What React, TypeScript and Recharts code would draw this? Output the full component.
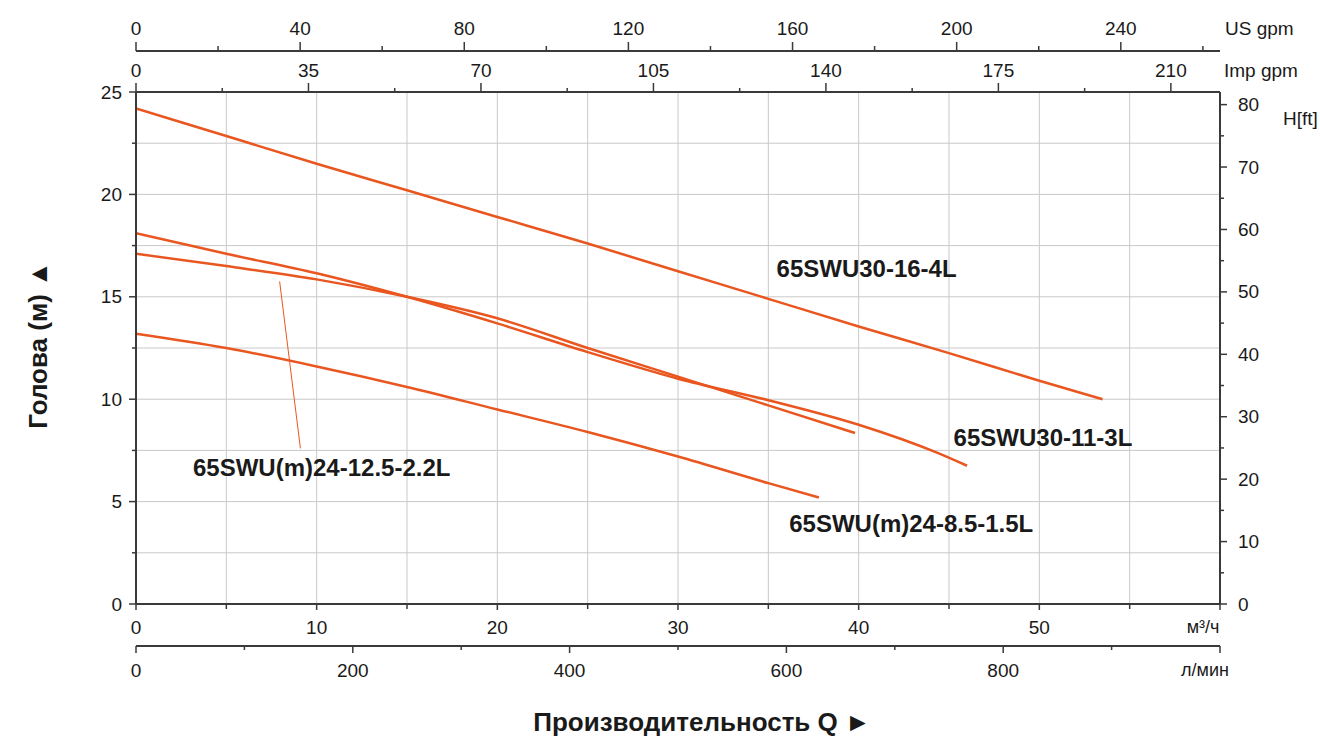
import React from 'react';
import {
  ComposedChart,
  Line,
  XAxis,
  YAxis,
  CartesianGrid,
  ReferenceLine,
  ReferenceDot,
  Label,
} from 'recharts';

// ---------- Data ----------
const qA = [0, 5, 10, 15, 20, 25, 30, 35, 40, 45, 50, 53.5];
const hA = [24.2, 22.85, 21.5, 20.2, 18.9, 17.6, 16.25, 14.9, 13.55, 12.25, 10.9, 10.0];
const qB = [0, 5, 10, 15, 20, 25, 30, 35, 40, 44.3, 46];
const hB = [18.1, 17.1, 16.15, 15.0, 13.7, 12.3, 11.0, 9.95, 8.75, 7.4, 6.75];
const qC = [0, 5, 10, 15, 20, 25, 30, 35, 39.8];
const hC = [17.1, 16.5, 15.85, 15.0, 13.95, 12.5, 11.1, 9.7, 8.35];
const qD = [0, 5, 10, 15, 20, 25, 30, 35, 37.8];
const hD = [13.2, 12.5, 11.6, 10.6, 9.5, 8.4, 7.2, 5.9, 5.2];

const seriesNames = [
  '65SWU30-16-4L',
  '65SWU30-11-3L',
  '65SWU(m)24-12.5-2.2L',
  '65SWU(m)24-8.5-1.5L',
];
// label anchor points (flow m3/h, head m) where each name starts
const labelQ = [35.4, 45.2, 3.1, 36.1];
const labelH = [16.36, 8.15, 6.69, 3.95];
// leader line for 65SWU(m)24-12.5-2.2L
const leaderQ = [7.95, 9.1];
const leaderH = [15.75, 7.6];

const qTicks = [0, 5, 10, 15, 20, 25, 30, 35, 40, 45, 50, 55, 60];
const lminTicks = [0, 100, 200, 300, 400, 500, 600, 700, 800, 900, 1000];
const usTicks = [0, 20, 40, 60, 80, 100, 120, 140, 160, 180, 200, 220, 240, 260];
const impTicks = [0, 17.5, 35, 52.5, 70, 87.5, 105, 122.5, 140, 157.5, 175, 192.5, 210];
const mTicks = [0, 2.5, 5, 7.5, 10, 12.5, 15, 17.5, 20, 22.5, 25];
const ftTicks = [0, 5, 10, 15, 20, 25, 30, 35, 40, 45, 50, 55, 60, 65, 70, 75, 80];

const Q_MAX = 60;
const H_MAX = 25;
const M3H_TO_LMIN = 1000 / 60;
const M3H_TO_USGPM = 4.40287;
const M3H_TO_IMPGPM = 3.66615;
const M_TO_FT = 3.28084;

const toPoints = (qs: number[], hs: number[]) =>
  qs.map((q, i) => ({
    q,
    h: hs[i],
    lmin: q * M3H_TO_LMIN,
    us: q * M3H_TO_USGPM,
    imp: q * M3H_TO_IMPGPM,
  }));
const curves = [toPoints(qA, hA), toPoints(qB, hB), toPoints(qC, hC), toPoints(qD, hD)];

// ---------- Styles ----------
const FONT = '"Liberation Sans", Arial, sans-serif';
const CURVE = '#E9561F';
const AXIS = '#3a3a3a';
const TEXT = '#1a1a1a';
const TICK_FS = 19;

const isMult = (v: number, step: number) => Math.abs(v / step - Math.round(v / step)) < 1e-6;

type TickCfg = {
  orient: 'top' | 'bottom' | 'left' | 'right';
  major: number;
  majorLen: number;
  minorLen: number;
  labelGap: number;
  skipLabel?: (v: number) => boolean;
};

const makeTick = (cfg: TickCfg) => (props: any) => {
  const { x, y, payload } = props;
  const v = payload.value as number;
  const isMajor = isMult(v, cfg.major);
  const len = isMajor ? cfg.majorLen : cfg.minorLen;
  const showLabel = isMajor && !(cfg.skipLabel && cfg.skipLabel(v));
  let line;
  let text = null;
  const common = { fontFamily: FONT, fontSize: TICK_FS, fill: TEXT };
  if (cfg.orient === 'bottom') {
    line = <line x1={x} y1={y} x2={x} y2={y + len} stroke={AXIS} strokeWidth={1.5} />;
    if (showLabel)
      text = (
        <text x={x} y={y + cfg.labelGap} textAnchor="middle" dominantBaseline="central" {...common}>
          {v}
        </text>
      );
  } else if (cfg.orient === 'top') {
    line = <line x1={x} y1={y} x2={x} y2={y - len} stroke={AXIS} strokeWidth={1.5} />;
    if (showLabel)
      text = (
        <text x={x} y={y - cfg.labelGap} textAnchor="middle" dominantBaseline="central" {...common}>
          {v}
        </text>
      );
  } else if (cfg.orient === 'left') {
    line = <line x1={x} y1={y} x2={x - len} y2={y} stroke={AXIS} strokeWidth={1.5} />;
    if (showLabel)
      text = (
        <text x={x - cfg.labelGap} y={y} textAnchor="end" dominantBaseline="central" {...common}>
          {v}
        </text>
      );
  } else {
    line = <line x1={x} y1={y} x2={x + len} y2={y} stroke={AXIS} strokeWidth={1.5} />;
    if (showLabel)
      text = (
        <text x={x + cfg.labelGap} y={y} textAnchor="start" dominantBaseline="central" {...common}>
          {v}
        </text>
      );
  }
  return (
    <g>
      {line}
      {text}
    </g>
  );
};

const qTick = makeTick({ orient: 'bottom', major: 10, majorLen: 6, minorLen: 5, labelGap: 23, skipLabel: (v) => v >= 60 });
const lminTick = makeTick({ orient: 'bottom', major: 200, majorLen: 7, minorLen: 4, labelGap: 24, skipLabel: (v) => v >= 1000 });
const usTick = makeTick({ orient: 'top', major: 40, majorLen: 9, minorLen: 5, labelGap: 23 });
const impTick = makeTick({ orient: 'top', major: 35, majorLen: 9, minorLen: 4, labelGap: 22 });
const mTick = makeTick({ orient: 'left', major: 5, majorLen: 7, minorLen: 4, labelGap: 14 });
const ftTick = makeTick({ orient: 'right', major: 10, majorLen: 7, minorLen: 4, labelGap: 18 });

const unitStyle = { fontFamily: FONT, fontSize: TICK_FS, fill: TEXT };

export default function App() {
  return (
    <div style={{ position: 'absolute', left: 0, top: 0, width: 1320, height: 738, background: '#fff' }}>
      <ComposedChart width={1320} height={738} margin={{ top: 0, right: 0, bottom: 42, left: 0 }}>
        <CartesianGrid xAxisId="flow" yAxisId="m" stroke="#c9c9c9" strokeWidth={1} />

        {/* top axes */}
        <XAxis
          xAxisId="imp"
          dataKey="imp"
          orientation="top"
          type="number"
          domain={[0, Q_MAX * M3H_TO_IMPGPM]}
          allowDataOverflow
          ticks={impTicks}
          interval={0}
          height={41}
          tickSize={0}
          tickMargin={0}
          tickLine={false}
          tick={impTick}
          axisLine={{ stroke: AXIS, strokeWidth: 2 }}
        >
          <Label
            content={(p: any) => (
              <text x={p.viewBox.x + p.viewBox.width + 4} y={p.viewBox.y + p.viewBox.height - 22} dominantBaseline="central" {...unitStyle}>
                Imp gpm
              </text>
            )}
          />
        </XAxis>
        <XAxis
          xAxisId="us"
          dataKey="us"
          orientation="top"
          type="number"
          domain={[0, Q_MAX * M3H_TO_USGPM]}
          allowDataOverflow
          ticks={usTicks}
          interval={0}
          height={51}
          tickSize={0}
          tickMargin={0}
          tickLine={false}
          tick={usTick}
          axisLine={{ stroke: AXIS, strokeWidth: 2 }}
        >
          <Label
            content={(p: any) => (
              <text x={p.viewBox.x + p.viewBox.width + 5} y={p.viewBox.y + p.viewBox.height - 23} dominantBaseline="central" {...unitStyle}>
                US gpm
              </text>
            )}
          />
        </XAxis>

        {/* bottom axes */}
        <XAxis
          xAxisId="flow"
          dataKey="q"
          orientation="bottom"
          type="number"
          domain={[0, Q_MAX]}
          allowDataOverflow
          ticks={qTicks}
          interval={0}
          height={42}
          tickSize={0}
          tickMargin={0}
          tickLine={false}
          tick={qTick}
          axisLine={{ stroke: AXIS, strokeWidth: 2 }}
        >
          <Label
            content={(p: any) => (
              <text x={p.viewBox.x + p.viewBox.width - 17} y={p.viewBox.y + 23} textAnchor="middle" dominantBaseline="central" {...unitStyle} fontSize={18}>
                м³/ч
              </text>
            )}
          />
        </XAxis>
        <XAxis
          xAxisId="lmin"
          dataKey="lmin"
          orientation="bottom"
          type="number"
          domain={[0, Q_MAX * M3H_TO_LMIN]}
          allowDataOverflow
          ticks={lminTicks}
          interval={0}
          height={50}
          tickSize={0}
          tickMargin={0}
          tickLine={false}
          tick={lminTick}
          axisLine={{ stroke: AXIS, strokeWidth: 2 }}
        >
          <Label
            content={(p: any) => (
              <g>
                <text x={p.viewBox.x + p.viewBox.width - 15} y={p.viewBox.y + 24} textAnchor="middle" dominantBaseline="central" {...unitStyle} fontSize={18}>
                  л/мин
                </text>
                <text x={702} y={722} textAnchor="middle" dominantBaseline="central" fontFamily={FONT} fontWeight="bold" fontSize={26} fill={TEXT}>
                  Производительность Q  ►
                </text>
              </g>
            )}
          />
        </XAxis>

        {/* vertical axes */}
        <YAxis
          yAxisId="m"
          orientation="left"
          type="number"
          domain={[0, H_MAX]}
          allowDataOverflow
          ticks={mTicks}
          interval={0}
          width={136}
          tickSize={0}
          tickMargin={0}
          tickLine={false}
          tick={mTick}
          axisLine={{ stroke: AXIS, strokeWidth: 2 }}
        >
          <Label
            content={() => (
              <text
                x={38}
                y={345}
                transform="rotate(-90 38 345)"
                textAnchor="middle"
                dominantBaseline="central"
                fontFamily={FONT}
                fontWeight="bold"
                fontSize={26}
                fill={TEXT}
              >
                Голова (м)  ▲
              </text>
            )}
          />
        </YAxis>
        <YAxis
          yAxisId="ft"
          orientation="right"
          type="number"
          domain={[0, H_MAX * M_TO_FT]}
          allowDataOverflow
          ticks={ftTicks}
          interval={0}
          width={100}
          tickSize={0}
          tickMargin={0}
          tickLine={false}
          tick={ftTick}
          axisLine={{ stroke: AXIS, strokeWidth: 2 }}
        >
          <Label
            content={(p: any) => (
              <text x={p.viewBox.x + 63} y={p.viewBox.y + 26} dominantBaseline="central" {...unitStyle}>
                H[ft]
              </text>
            )}
          />
        </YAxis>

        {/* invisible companions so the secondary flow scales get a domain */}
        {(['lmin', 'us', 'imp'] as const).map((id) => (
          <Line
            key={'aux-' + id}
            data={curves[0]}
            dataKey="h"
            xAxisId={id}
            yAxisId="m"
            stroke="none"
            strokeWidth={0}
            dot={false}
            activeDot={false}
            legendType="none"
            isAnimationActive={false}
          />
        ))}

        {curves.map((d, i) => (
          <Line
            key={seriesNames[i]}
            name={seriesNames[i]}
            data={d}
            dataKey="h"
            xAxisId="flow"
            yAxisId="m"
            type="monotone"
            stroke={CURVE}
            strokeWidth={2.5}
            dot={false}
            activeDot={false}
            isAnimationActive={false}
          />
        ))}

        <ReferenceLine
          xAxisId="flow"
          yAxisId="m"
          segment={[
            { x: leaderQ[0], y: leaderH[0] },
            { x: leaderQ[1], y: leaderH[1] },
          ]}
          stroke={CURVE}
          strokeWidth={1}
          ifOverflow="visible"
        />

        {seriesNames.map((n, i) => (
          <ReferenceDot
            key={'lbl' + n}
            xAxisId="flow"
            yAxisId="m"
            x={labelQ[i]}
            y={labelH[i]}
            r={1}
            fill="none"
            stroke="none"
            ifOverflow="visible"
            label={{
              value: n,
              position: 'right',
              offset: 0,
              fontFamily: FONT,
              fontWeight: 'bold',
              fontSize: 24,
              fill: TEXT,
            }}
          />
        ))}
      </ComposedChart>
    </div>
  );
}
